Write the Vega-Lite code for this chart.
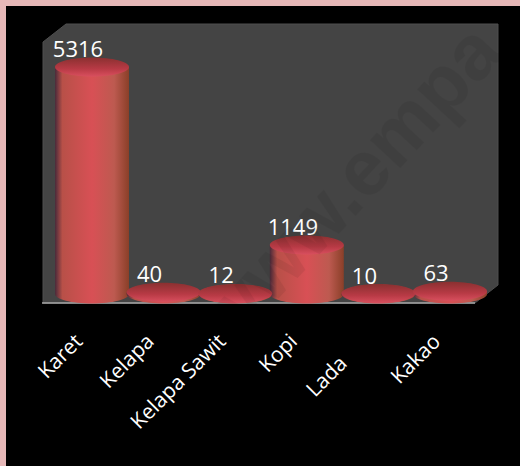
{"$schema":"https://vega.github.io/schema/vega-lite/v6.json","width":514,"height":460,"autosize":{"type":"none"},"padding":{"left":6,"top":6,"right":0,"bottom":0},"background":"#e6b8b8","view":{"fill":"#000000","stroke":null},
"datasets":{"crops":[{"komoditas":"Karet","nilai":5316},{"komoditas":"Kelapa","nilai":40},{"komoditas":"Kelapa Sawit","nilai":12},{"komoditas":"Kopi","nilai":1149},{"komoditas":"Lada","nilai":10},{"komoditas":"Kakao","nilai":63}],
"wall":[{"wx":37,"top":36,"bottom":297},{"wx":60,"top":18,"bottom":297},{"wx":469,"top":18,"bottom":297},{"wx":492,"top":18,"bottom":279}],
"floor":[{"x1":36,"x2":469,"yy":297}],
"mark":[{"x":345,"y":181,"t":"www.empa"}]},
"resolve":{"scale":{"x":"independent","y":"independent"},"axis":{"x":"independent"}},
"layer":[
{"layer":[
{"data":{"name":"wall"},"mark":{"type":"area","fill":"#444444","stroke":"#4e4e4e","strokeWidth":1,"interpolate":"linear"},"encoding":{"x":{"field":"wx","type":"quantitative","scale":{"domain":[0,514],"range":[0,514],"nice":false},"axis":null},"y":{"field":"top","type":"quantitative","scale":{"domain":[0,460],"range":[0,460],"nice":false},"axis":null},"y2":{"field":"bottom"}}},
{"data":{"name":"floor"},"mark":{"type":"rule","stroke":"#a8a8a8","strokeWidth":1.5},"encoding":{"x":{"field":"x1","type":"quantitative"},"x2":{"field":"x2"},"y":{"field":"yy","type":"quantitative"}}}
]},
{"data":{"name":"crops"},"encoding":{"x":{"field":"komoditas","type":"nominal","sort":null,"scale":{"type":"point","range":[86,444],"padding":0},"axis":{"title":null,"orient":"bottom","domain":false,"ticks":false,"grid":false,"zindex":1,"offset":-163,"labelAngle":-45,"labelAlign":"right","labelBaseline":"middle","labelColor":"#ffffff","labelFont":"Open Sans","labelFontSize":21,"labelPadding":35,"labelOffset":-13,"labelOverlap":false,"labelBound":false,"labelFlush":false,"encoding":{"labels":{"dx":{"condition":{"test":"datum.value == 'Lada'","value":-31},"value":0}}}}}},
"layer":[
{"mark":{"type":"point","filled":true,"opacity":1,"size":5476,"shape":"M-1,0A1,0.257,0,1,1,1,0A1,0.257,0,1,1,-1,0Z","fill":{"x1":0,"y1":0,"x2":1,"y2":0,"gradient":"linear","stops":[{"offset":0,"color":"#4a2a3a"},{"offset":0.1,"color":"#b85048"},{"offset":0.5,"color":"#d85055"},{"offset":0.8,"color":"#bd5a50"},{"offset":1,"color":"#8a3f28"}]}},"encoding":{"y":{"datum":0,"type":"quantitative","scale":{"domain":[0,5316],"range":[288,61],"nice":false},"axis":null}}},
{"mark":{"type":"bar","size":74,"fill":{"x1":0,"y1":0,"x2":1,"y2":0,"gradient":"linear","stops":[{"offset":0,"color":"#4a2a3a"},{"offset":0.1,"color":"#b85048"},{"offset":0.5,"color":"#d85055"},{"offset":0.8,"color":"#bd5a50"},{"offset":1,"color":"#8a3f28"}]}},"encoding":{"y":{"field":"nilai","type":"quantitative"},"y2":{"datum":0}}},
{"mark":{"type":"point","filled":true,"opacity":1,"size":5476,"shape":"M-1,0A1,0.257,0,1,1,1,0A1,0.257,0,1,1,-1,0Z","fill":{"x1":0,"y1":0,"x2":0,"y2":1,"gradient":"linear","stops":[{"offset":0,"color":"#8a3030"},{"offset":0.6,"color":"#b83a45"},{"offset":1,"color":"#d84f5e"}]}},"encoding":{"y":{"field":"nilai","type":"quantitative"}}},
{"mark":{"type":"text","color":"#ffffff","font":"Open Sans","fontSize":22,"dx":-14,"dy":-17,"baseline":"middle"},"encoding":{"y":{"field":"nilai","type":"quantitative"},"text":{"field":"nilai","type":"nominal"}}}
]},
{"data":{"name":"mark"},"mark":{"type":"text","font":"Liberation Sans","fontWeight":"bold","fontSize":78,"angle":-47,"color":"#000000","opacity":0.06,"align":"center","baseline":"middle"},"encoding":{"x":{"field":"x","type":"quantitative","scale":{"domain":[0,514],"range":[0,514],"nice":false},"axis":null},"y":{"field":"y","type":"quantitative","scale":{"domain":[0,460],"range":[0,460],"nice":false},"axis":null},"text":{"field":"t"}}}
]}
